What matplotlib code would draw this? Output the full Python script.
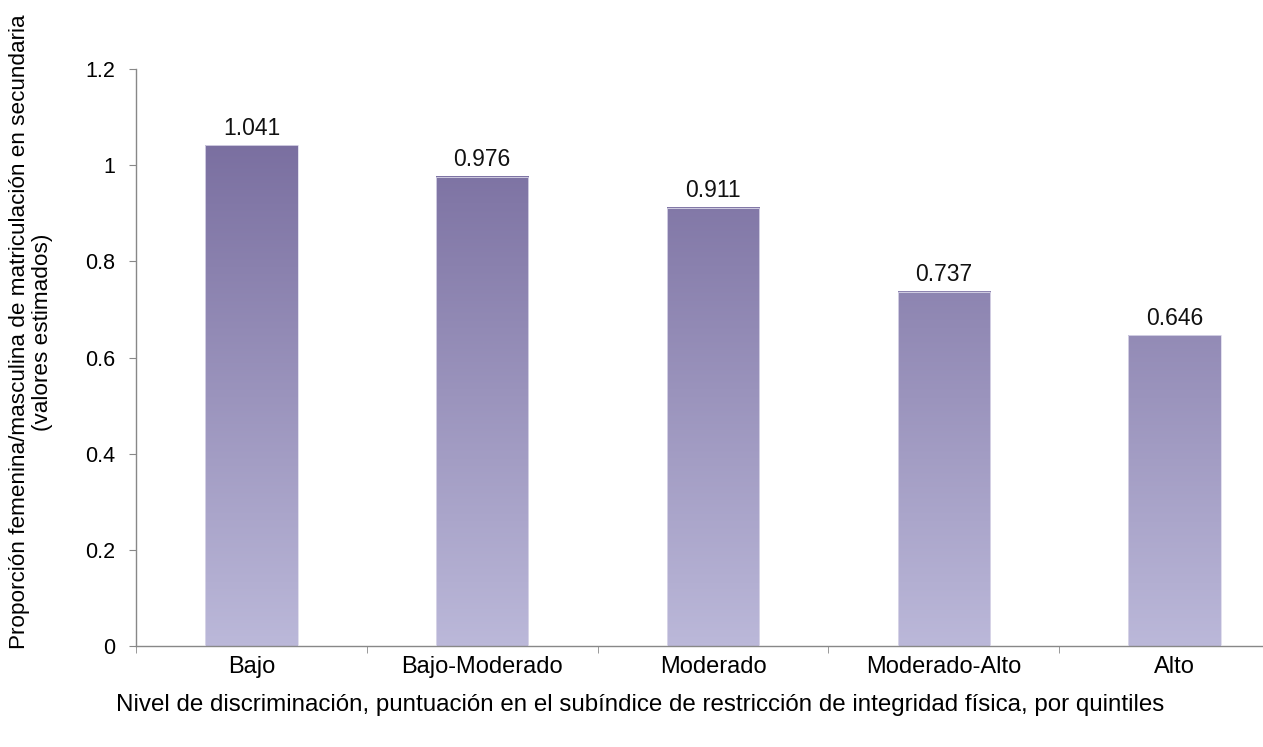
import matplotlib
matplotlib.use("Agg")
import matplotlib.pyplot as plt
import numpy as np
from matplotlib.colors import LinearSegmentedColormap, Normalize
from matplotlib import font_manager

# Daten
categorias = ["Bajo", "Bajo-Moderado", "Moderado", "Moderado-Alto", "Alto"]
valores = [1.041, 0.976, 0.911, 0.737, 0.646]
y_ticks = [0, 0.2, 0.4, 0.6, 0.8, 1, 1.2]
y_tick_labels = ["0", "0.2", "0.4", "0.6", "0.8", "1", "1.2"]

nombres = {f.name for f in font_manager.fontManager.ttflist}
fuente = "Liberation Sans Narrow" if "Liberation Sans Narrow" in nombres else "Liberation Sans"
plt.rcParams['font.family'] = [fuente, 'DejaVu Sans']

fig = plt.figure(figsize=(12.63, 7.47), dpi=100)
# the reference is cropped on the right, so the axes run past the figure edge
ax = fig.add_axes([136 / 1263, 1 - 646 / 747, (1290 - 136) / 1263, (646 - 69) / 747])

cmap = LinearSegmentedColormap.from_list("morado", ["#bbb8d9", "#7a6fa0"])
norm = Normalize(vmin=0, vmax=1.05)
ancho = 0.4
x = np.arange(len(categorias))

for xi, v in zip(x, valores):
    img = np.linspace(0, v, 256).reshape(-1, 1)
    ax.imshow(img, cmap=cmap, norm=norm, origin="lower", aspect="auto",
              extent=(xi - ancho / 2, xi + ancho / 2, 0, v), zorder=2)
    ax.bar(xi, v, width=ancho, facecolor="none", edgecolor="#dcd9ea", linewidth=0.6, zorder=3)
    ax.text(xi, v + 0.012, f"{v:.3f}", ha="center", va="bottom", fontsize=16.5, color="#111111")

ax.set_xlim(-0.5, len(categorias) - 0.5)
ax.set_ylim(0, 1.2)
ax.set_yticks(y_ticks)
ax.set_yticklabels(y_tick_labels, fontsize=15.5)
ax.set_xticks(x)
ax.set_xticklabels(categorias, fontsize=17)
ax.set_xticks(np.arange(-0.5, len(categorias)), minor=True)
ax.tick_params(axis="x", which="major", length=0, pad=7)
ax.tick_params(axis="x", which="minor", length=5, color="#888888", direction="out")
ax.tick_params(axis="y", length=5, color="#888888", pad=10)

for lado in ["top", "right"]:
    ax.spines[lado].set_visible(False)
for lado in ["left", "bottom"]:
    ax.spines[lado].set_color("#888888")
    ax.spines[lado].set_linewidth(1.0)

fig.text(640 / 1263, 1 - 705 / 747,
         "Nivel de discriminación, puntuación en el subíndice de restricción de integridad física, por quintiles",
         ha="center", va="center", fontsize=17.4)
fig.text(31 / 1263, 1 - 332 / 747,
         "Proporción femenina/masculina de matriculación en secundaria\n(valores estimados)",
         ha="center", va="center", rotation=90, fontsize=16.2, linespacing=1.15)

fig.savefig("out.png", dpi=100)
